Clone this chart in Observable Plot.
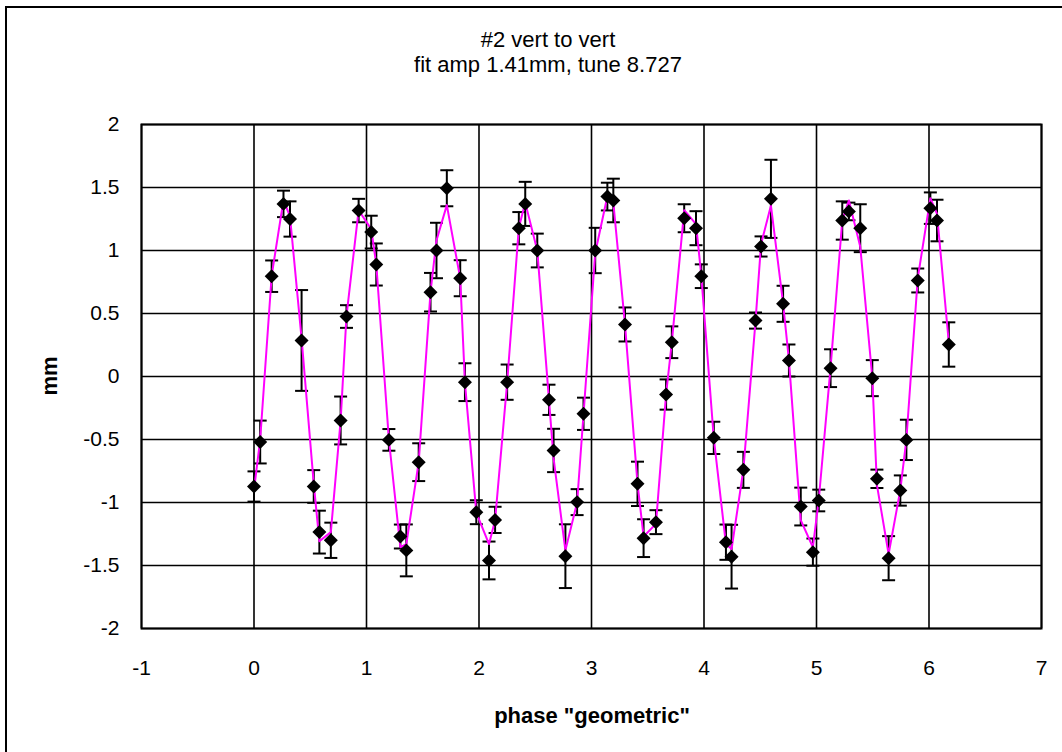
<!DOCTYPE html>
<html>
<head>
<meta charset="utf-8">
<script src="https://cdn.jsdelivr.net/npm/d3@7"></script>
<script src="https://cdn.jsdelivr.net/npm/@observablehq/plot@0.6"></script>
<style>
  html, body { margin: 0; padding: 0; background: #fff; }
  #wrap { position: relative; width: 1062px; height: 752px; overflow: hidden; font-family: "Liberation Sans", Arial, sans-serif; color: #000; }
  #frame { position: absolute; left: 5px; top: 6px; width: 1100px; height: 800px; border-left: 2px solid #000; border-top: 2px solid #000; box-sizing: border-box; }
  .t { position: absolute; white-space: nowrap; transform: translate(-50%, -50%); }
  #chart { position: absolute; left: 0; top: 0; }
</style>
</head>
<body>
<div id="wrap">
  <div id="frame"></div>
  <div id="chart"></div>
  <div class="t" style="left:548px; top:40px; font-size:22px;">#2 vert to vert</div>
  <div class="t" style="left:548px; top:65px; font-size:22px;">fit amp 1.41mm, tune 8.727</div>
  <div class="t" style="left:592px; top:716px; font-size:22px; font-weight:bold;">phase "geometric"</div>
  <div class="t" style="left:50px; top:376px; font-size:22px; font-weight:bold; transform: translate(-50%, -50%) rotate(-90deg);">mm</div>
</div>
<script>
// phase "geometric" (x) of each measurement
const phase = [0.000,0.055,0.157,0.262,0.320,0.423,0.531,0.581,0.683,0.770,0.822,0.930,
  1.042,1.087,1.199,1.301,1.354,1.464,1.569,1.622,1.714,1.833,1.875,1.976,
  2.089,2.143,2.250,2.354,2.411,2.518,2.622,2.663,2.768,2.872,2.929,
  3.033,3.141,3.194,3.298,3.409,3.463,3.573,3.663,3.714,3.824,3.929,3.976,
  4.087,4.195,4.245,4.350,4.458,4.507,4.595,4.703,4.755,4.860,4.968,
  5.020,5.125,5.229,5.288,5.389,5.496,5.537,5.641,5.745,5.799,5.900,
  6.012,6.071,6.176];
// measured displacement (mm)
const mm = [-0.873,-0.52,0.796,1.37,1.25,0.286,-0.873,-1.235,-1.30,-0.349,0.476,1.317,
  1.146,0.889,-0.503,-1.27,-1.38,-0.68,0.669,1.0,1.494,0.78,-0.045,-1.077,
  -1.46,-1.138,-0.045,1.177,1.37,1.0,-0.185,-0.587,-1.426,-0.997,-0.296,
  1.0,1.428,1.397,0.413,-0.852,-1.283,-1.156,-0.143,0.272,1.256,1.177,0.796,
  -0.487,-1.315,-1.43,-0.741,0.444,1.032,1.41,0.577,0.127,-1.032,-1.394,
  -0.984,0.066,1.238,1.31,1.177,-0.013,-0.812,-1.442,-0.905,-0.503,0.762,
  1.336,1.238,0.254];
// error bar half-length (mm)
const err = [0.12,0.17,0.125,0.105,0.14,0.40,0.13,0.17,0.14,0.19,0.09,0.093,
  0.13,0.167,0.086,0.095,0.206,0.15,0.153,0.22,0.143,0.143,0.15,0.095,
  0.15,0.104,0.14,0.128,0.175,0.134,0.12,0.172,0.253,0.103,0.128,
  0.18,0.11,0.173,0.135,0.176,0.15,0.095,0.12,0.126,0.111,0.135,0.094,
  0.128,0.14,0.253,0.143,0.064,0.08,0.31,0.143,0.127,0.15,0.108,
  0.086,0.15,0.152,0.07,0.19,0.143,0.073,0.175,0.12,0.16,0.095,
  0.125,0.165,0.176];
// fitted curve value at each phase (mm)
const fit = [-0.90,-0.50,0.80,1.40,1.27,0.30,-0.85,-1.307,-1.235,-0.35,0.48,1.32,
  1.17,0.89,-0.50,-1.355,-1.33,-0.68,0.67,1.08,1.36,0.78,-0.05,-1.08,
  -1.33,-1.14,-0.05,1.18,1.38,1.0,-0.185,-0.65,-1.38,-1.0,-0.30,
  0.98,1.43,1.38,0.41,-0.85,-1.27,-1.17,-0.14,0.27,1.32,1.21,0.80,
  -0.49,-1.33,-1.37,-0.74,0.44,1.05,1.357,0.58,0.13,-1.14,-1.355,
  -0.98,0.07,1.24,1.397,1.03,-0.01,-0.86,-1.41,-0.90,-0.50,0.78,
  1.415,1.29,0.27];
const xTicks = [-1,0,1,2,3,4,5,6,7];
const yTicks = [-2,-1.5,-1,-0.5,0,0.5,1,1.5,2];

const rows = phase.map((x, i) => ({x, y: mm[i], lo: mm[i] - err[i], hi: mm[i] + err[i], fit: fit[i]}));
const caps = rows.flatMap(d => [{x: d.x, y: d.lo}, {x: d.x, y: d.hi}]);

const capSymbol = {
  draw(context, size) {
    const w = 6.5;
    context.moveTo(-w, 0);
    context.lineTo(w, 0);
  }
};

const chart = Plot.plot({
  width: 1062,
  height: 752,
  marginLeft: 141,
  marginRight: 21,
  marginTop: 124,
  marginBottom: 124,
  style: {fontFamily: "'Liberation Sans', Arial, sans-serif", fontSize: "21px", background: "transparent", color: "#000"},
  x: {domain: [-1, 7], label: null},
  y: {domain: [-2, 2], label: null},
  marks: [
    Plot.gridX(xTicks, {stroke: "#000", strokeOpacity: 1, strokeWidth: 1.6}),
    Plot.gridY(yTicks, {stroke: "#000", strokeOpacity: 1, strokeWidth: 1.6}),
    Plot.frame({stroke: "#000", strokeWidth: 2}),
    Plot.axisX(xTicks, {tickSize: 0, tickPadding: 32, tickFormat: d => String(d), fontSize: 21, label: null}),
    Plot.axisY(yTicks, {tickSize: 0, tickPadding: 22, tickFormat: d => String(d), fontSize: 21, label: null}),
    Plot.ruleX(rows, {x: "x", y1: "lo", y2: "hi", stroke: "#000", strokeWidth: 2}),
    Plot.dot(caps, {x: "x", y: "y", symbol: capSymbol, fill: "none", stroke: "#000", strokeWidth: 2, r: 5}),
    Plot.line(rows, {x: "x", y: "fit", stroke: "#FF00FF", strokeWidth: 2}),
    Plot.dot(rows, {x: "x", y: "y", symbol: "diamond2", r: 6.3, fill: "#000", stroke: "none"})
  ]
});
document.getElementById("chart").appendChild(chart);
</script>
</body>
</html>
